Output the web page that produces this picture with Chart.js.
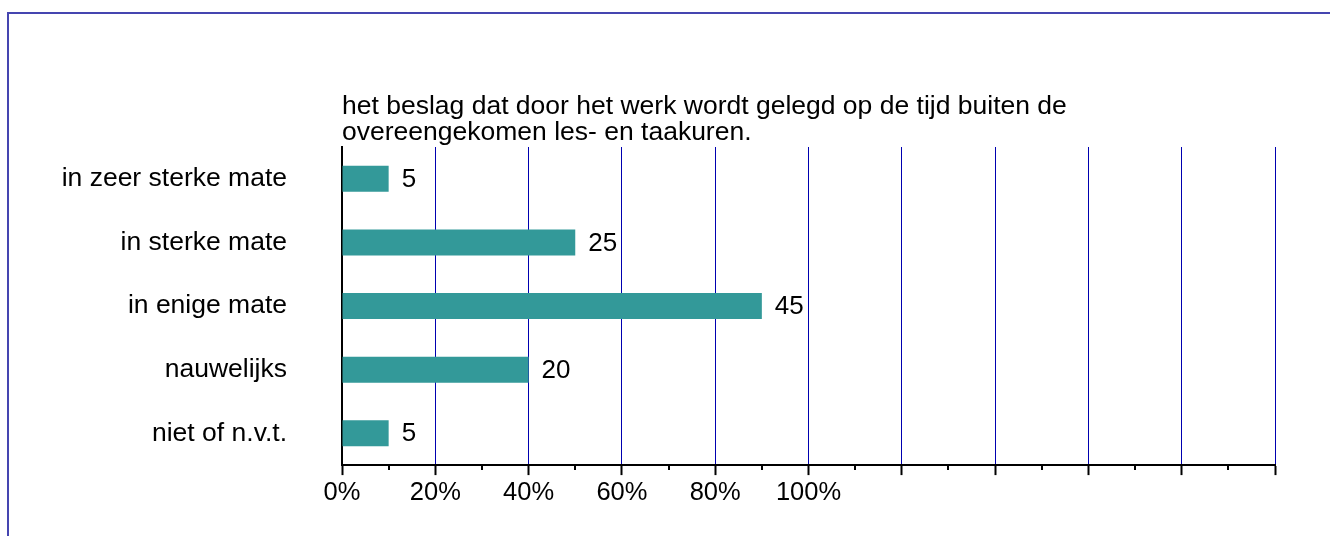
<!DOCTYPE html>
<html>
<head>
<meta charset="utf-8">
<script src="https://cdn.jsdelivr.net/npm/chart.js@4.4.0/dist/chart.umd.min.js"></script>
<style>
    html, body { margin: 0; padding: 0; background: #fff; }
    #wrap { position: relative; width: 1330px; height: 536px; overflow: hidden; }
    #frame {
        position: absolute; left: 7px; top: 12px; width: 1400px; height: 600px;
        border-left: 2px solid #4545b0; border-top: 2px solid #4545b0;
    }
    canvas { position: absolute; left: 0; top: 0; }
</style>
</head>
<body>
<div id="wrap">
    <div id="frame"></div>
    <canvas id="chart" width="1330" height="536"></canvas>
</div>
<script>
const titleLines = [
    "het beslag dat door het werk wordt gelegd op de tijd buiten de",
    "overeengekomen les- en taakuren."
];
const categories = ["in zeer sterke mate", "in sterke mate", "in enige mate", "nauwelijks", "niet of n.v.t."];
const values = [5, 25, 45, 20, 5];
const tickLabels = ["0%", "20%", "40%", "60%", "80%", "100%", "", "", "", "", ""];

const FONT = "'Liberation Sans', Arial, sans-serif";
Chart.defaults.font.family = FONT;
Chart.defaults.font.size = 26;
Chart.defaults.color = "#000";

// title text above the plot, left aligned on the axis
const titlePlugin = {
    id: "titleLines",
    afterDraw(chart) {
        const ctx = chart.ctx;
        ctx.save();
        ctx.font = "26.5px " + FONT;
        ctx.fillStyle = "#000";
        ctx.textAlign = "left";
        ctx.textBaseline = "alphabetic";
        titleLines.forEach((line, i) => {
            ctx.fillText(line, chart.chartArea.left, 114 + i * 26);
        });
        ctx.restore();
    }
};

// value next to each bar + small minor ticks on x axis
const extrasPlugin = {
    id: "extras",
    afterDatasetsDraw(chart) {
        const ctx = chart.ctx;
        const meta = chart.getDatasetMeta(0);
        ctx.save();
        ctx.font = "26px " + FONT;
        ctx.fillStyle = "#000";
        ctx.textAlign = "left";
        ctx.textBaseline = "middle";
        meta.data.forEach((bar, i) => {
            ctx.fillText(values[i], bar.x + 13, bar.y + 1);
        });

        const x = chart.scales.x;
        const bottom = chart.chartArea.bottom;
        ctx.strokeStyle = "#000";
        ctx.lineWidth = 2;
        for (let v = 5; v < 100; v += 10) {
            const px = Math.round(x.getPixelForValue(v));
            ctx.beginPath();
            ctx.moveTo(px, bottom);
            ctx.lineTo(px, bottom + 5);
            ctx.stroke();
        }
        ctx.restore();
    }
};

new Chart(document.getElementById("chart"), {
    type: "bar",
    data: {
        labels: categories,
        datasets: [{
            data: values,
            backgroundColor: "#339999",
            barPercentage: 0.41,
            categoryPercentage: 1
        }]
    },
    options: {
        indexAxis: "y",
        responsive: false,
        animation: false,
        layout: { padding: { top: 147, right: 55, left: 0, bottom: 0 } },
        scales: {
            x: {
                min: 0,
                max: 100,
                ticks: {
                    stepSize: 10,
                    padding: 3,
                    maxRotation: 0,
                    autoSkip: false,
                    font: { size: 25.5 },
                    callback: (value, index) => tickLabels[index]
                },
                grid: {
                    color: ctx => ctx.index === 0 ? "rgba(0,0,0,0)" : "#0000b0",
                    lineWidth: 1,
                    tickColor: "#000",
                    tickWidth: 2,
                    tickLength: 10
                },
                border: { color: "#000", width: 2 },
                afterFit: scale => { scale.height = 69; }
            },
            y: {
                ticks: { padding: 55, font: { size: 26.5 } },
                grid: { display: false, drawTicks: false, tickLength: 0 },
                border: { color: "#000", width: 2 },
                afterFit: scale => { scale.width = 342; }
            }
        },
        plugins: {
            legend: { display: false },
            tooltip: { enabled: false }
        }
    },
    plugins: [titlePlugin, extrasPlugin]
});
</script>
</body>
</html>
